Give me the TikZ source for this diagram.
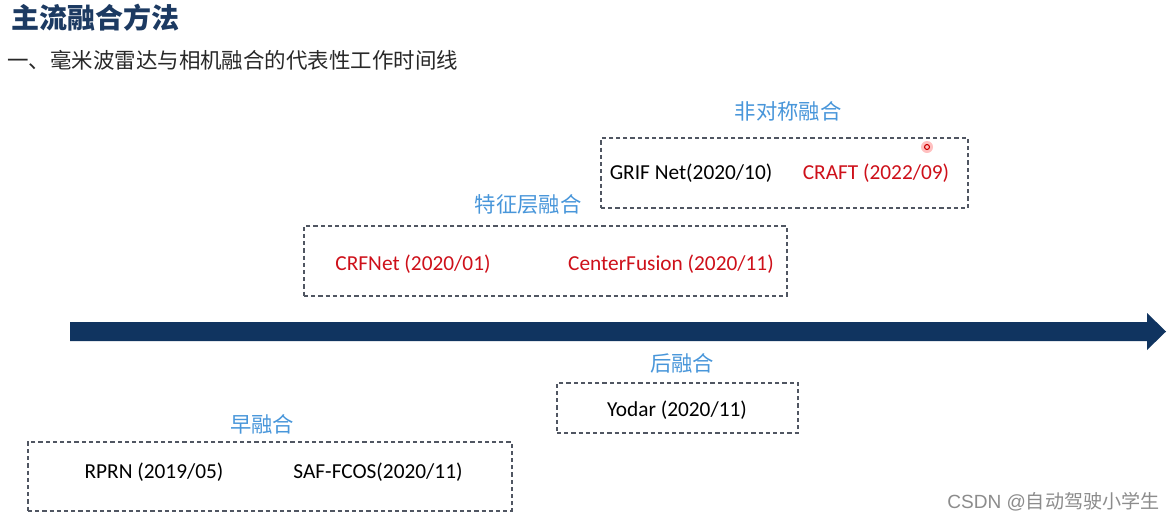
\documentclass[tikz,border=0pt]{standalone}
\usepackage{fontspec}
\setmainfont{Carlito}
\newfontfamily\cjk{Noto Sans CJK SC}
\newfontfamily\wmfont{Liberation Sans}
\definecolor{navy}{RGB}{16,52,96}
\definecolor{titleblue}{RGB}{28,58,98}
\definecolor{lblue}{RGB}{72,150,218}
\definecolor{dred}{RGB}{206,16,26}
\definecolor{dashgray}{RGB}{80,86,98}
\definecolor{subgray}{RGB}{40,40,40}
\tikzset{
  dbox/.style={draw=dashgray, line width=1.1pt, dash pattern=on 3.2pt off 2.2pt, inner sep=0pt},
  cat/.style={font=\cjk\fontsize{16}{19}\selectfont, text=lblue, inner sep=0pt},
  item/.style={font=\fontsize{16}{19}\selectfont, inner sep=0pt},
  itemred/.style={item, text=dred},
}
\begin{document}
\begin{tikzpicture}[x=0.75pt,y=-0.75pt]
\useasboundingbox (0,0) rectangle (1173,522);
\fill[white] (0,0) rectangle (1173,522);
% titles
\node[anchor=west, inner sep=0, text=titleblue, font=\cjk\bfseries\fontsize{21}{24}\selectfont] (title) at (11,18) {主流融合方法};
\node[anchor=west, inner sep=0, text=subgray, font=\cjk\fontsize{16.1}{19}\selectfont] (sub) at (7,60) {一、毫米波雷达与相机融合的代表性工作时间线};
% timeline arrow
\fill[navy] (70,322) -- (1147,322) -- (1147,313) -- (1166,331.5) -- (1147,350) -- (1147,341) -- (70,341) -- cycle;
% asymmetric fusion
\node[cat] (l1) at (788,111) {非对称融合};
\node[dbox, minimum width=367*0.75pt, minimum height=70*0.75pt] (b1) at (784.5,173) {};
\node[item] (t1a) at (691,173) {GRIF Net(2020/10)};
\node[itemred] (t1b) at (876,173) {CRAFT (2022/09)};
\fill[red!70, opacity=0.35] (927,147) circle (6);
\draw[red!80!black, line width=0.8pt] (927,147) circle (2.5);
% feature-level fusion
\node[cat] (l2) at (528,204) {特征层融合};
\node[dbox, minimum width=483*0.75pt, minimum height=70*0.75pt] (b2) at (545.5,261) {};
\node[itemred] (t2a) at (413,264) {CRFNet (2020/01)};
\node[itemred] (t2b) at (671,264) {CenterFusion (2020/11)};
% late fusion
\node[cat] (l3) at (682,363) {后融合};
\node[dbox, minimum width=241*0.75pt, minimum height=50*0.75pt] (b3) at (677.5,408) {};
\node[item] (t3) at (677,410) {Yodar (2020/11)};
% early fusion
\node[cat] (l4) at (262,424) {早融合};
\node[dbox, minimum width=484*0.75pt, minimum height=69*0.75pt] (b4) at (270,476.5) {};
\node[item] (t4a) at (154,472) {RPRN (2019/05)};
\node[item] (t4b) at (378,472) {SAF-FCOS(2020/11)};
% watermark
\node[anchor=west, inner sep=0, text=black!45, font=\fontsize{14.3}{16}\selectfont] (wm) at (947,502) {\wmfont CSDN @\cjk 自动驾驶小学生};
\end{tikzpicture}
\end{document}
